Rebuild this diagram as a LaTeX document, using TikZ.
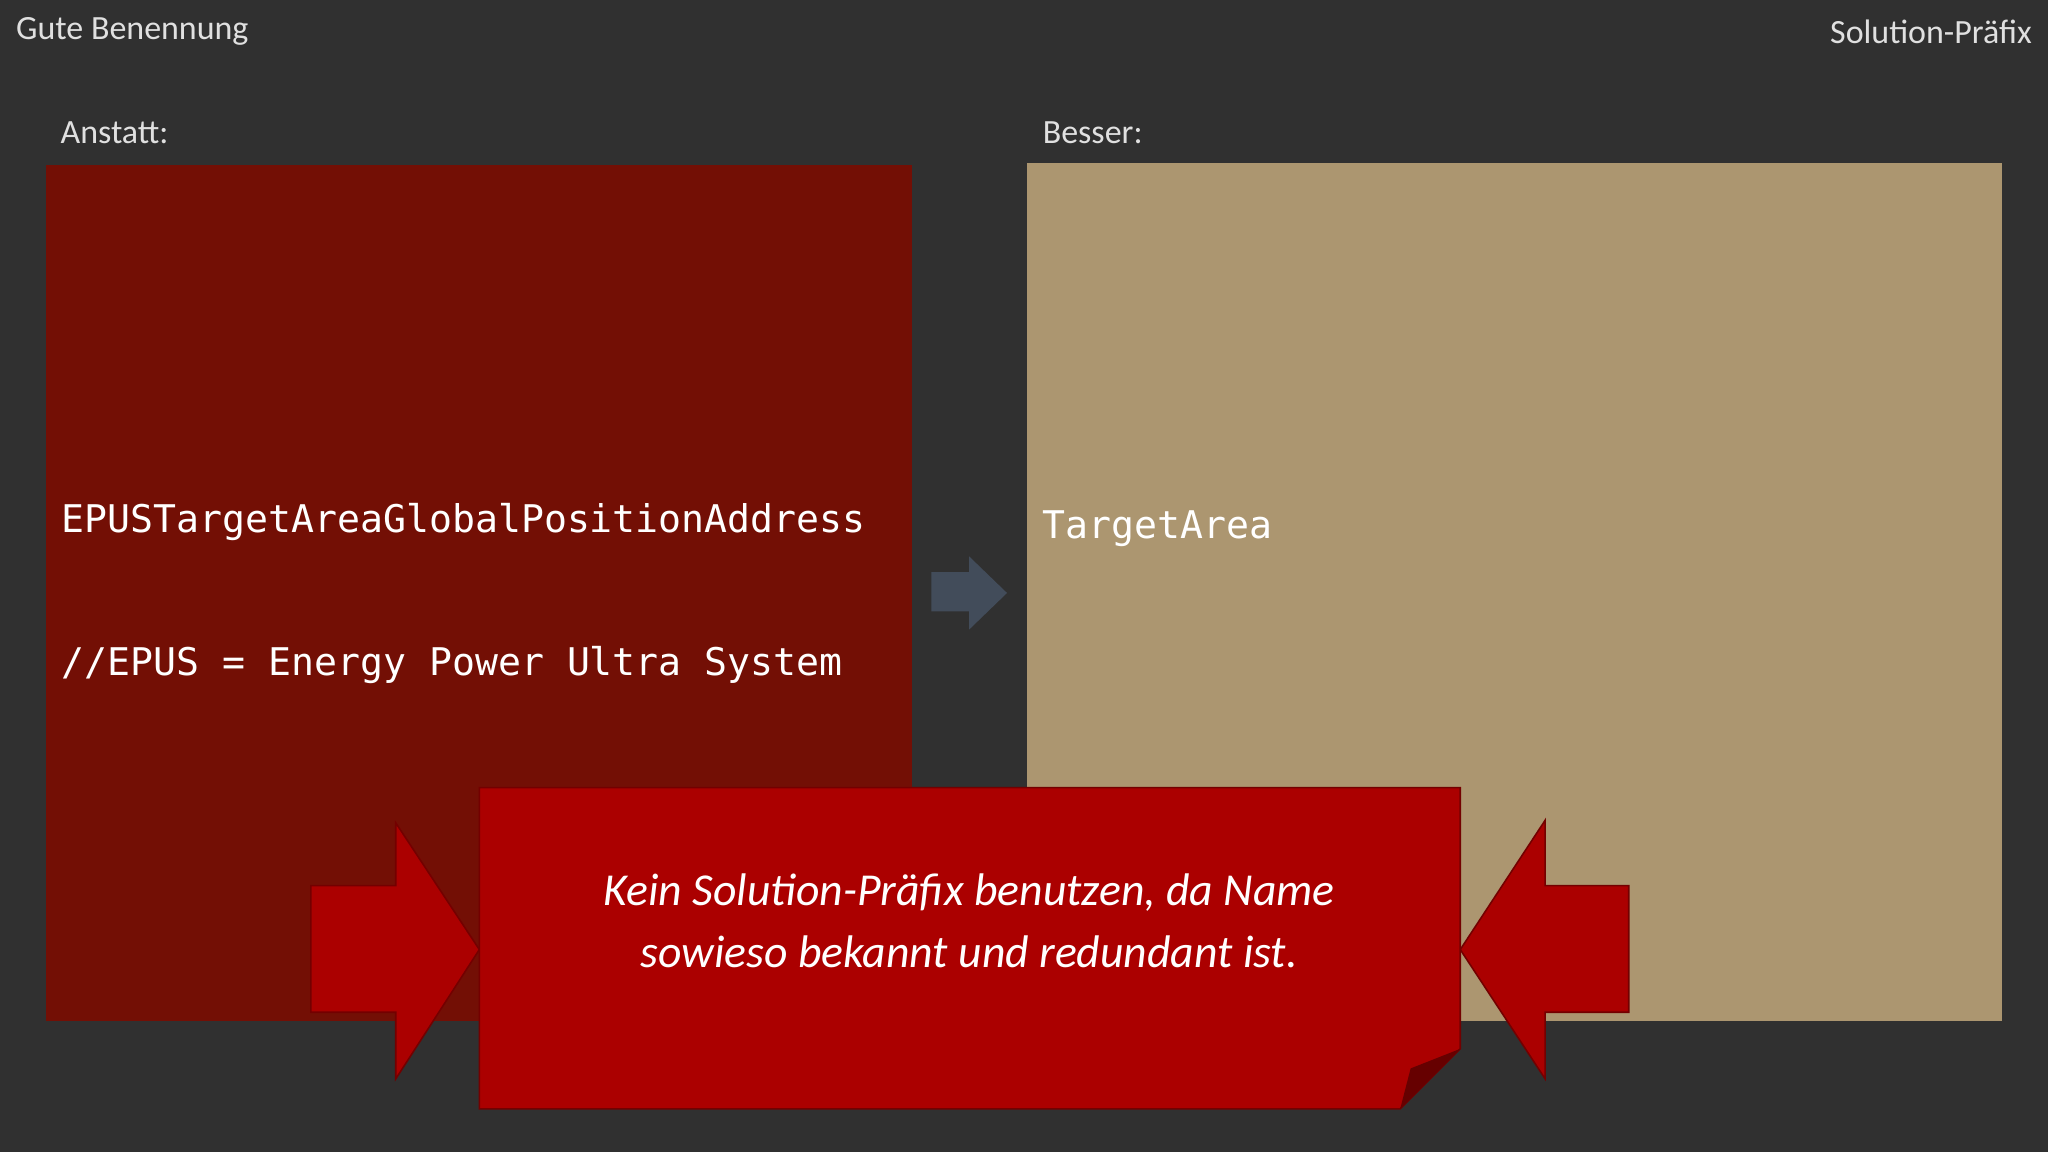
\documentclass[tikz,border=0pt]{standalone}
\usepackage{fontspec}
\setmainfont{Carlito}
\newfontfamily\monof{DejaVu Sans Mono}
\begin{document}
\begin{tikzpicture}[x=0.5pt,y=-0.5pt,
  lbl/.style={inner sep=0pt,text=white!88!black,font=\fontsize{13}{15}\selectfont},
  mono/.style={inner sep=0pt,anchor=base west,text=white,font=\monof\fontsize{14.6}{17}\selectfont},
  callarrow/.style={fill=red!67!black,draw=red!45!black,line width=0.6pt}]
\definecolor{bg}{RGB}{48,48,48}
\definecolor{darkred}{RGB}{115,15,5}
\definecolor{tan}{RGB}{172,150,112}
\definecolor{arrowgray}{RGB}{66,76,90}
\definecolor{callred}{RGB}{171,0,0}
\useasboundingbox (0,0) rectangle (1568,882);
\fill[bg] (0,0) rectangle (1568,882);
\node[lbl,anchor=west] (t1) at (12,24) {Gute Benennung};
\node[lbl,anchor=east] (t2) at (1556,24) {Solution-Präfix};
\node[lbl,anchor=west] (a1) at (46,102) {Anstatt:};
\node[lbl,anchor=west] (b1) at (798,102) {Besser:};
\fill[darkred] (35,126) rectangle (698,782);
\fill[tan] (786,125) rectangle (1533,782);
\node[mono] (m1) at (47,408) {EPUSTargetAreaGlobalPositionAddress};
\node[mono] (m2) at (47,517) {//EPUS = Energy Power Ultra System};
\node[mono] (m3) at (798,412) {TargetArea};
\fill[arrowgray] (713,438) -- (742,438) -- (742,426) -- (771,454) -- (742,482) -- (742,468) -- (713,468) -- cycle;
\fill[callarrow] (238,678) -- (303,678) -- (303,630) -- (367,727) -- (303,826) -- (303,775) -- (238,775) -- cycle;
\fill[callarrow] (1247,678) -- (1183,678) -- (1183,628) -- (1118,727) -- (1183,826) -- (1183,775) -- (1247,775) -- cycle;
\filldraw[fill=callred,draw=red!45!black,line width=0.6pt] (367,603) -- (1118,603) -- (1118,803) -- (1072,849) -- (367,849) -- cycle;
\fill[red!40!black] (1118,803) -- (1080,818) -- (1072,849) -- cycle;
\node[inner sep=0pt,text=white,align=center,font=\itshape\fontsize{17.5}{23.5}\selectfont] (c) at (742,705) {Kein Solution-Präfix benutzen, da Name\\sowieso bekannt und redundant ist.};
\end{tikzpicture}
\end{document}
